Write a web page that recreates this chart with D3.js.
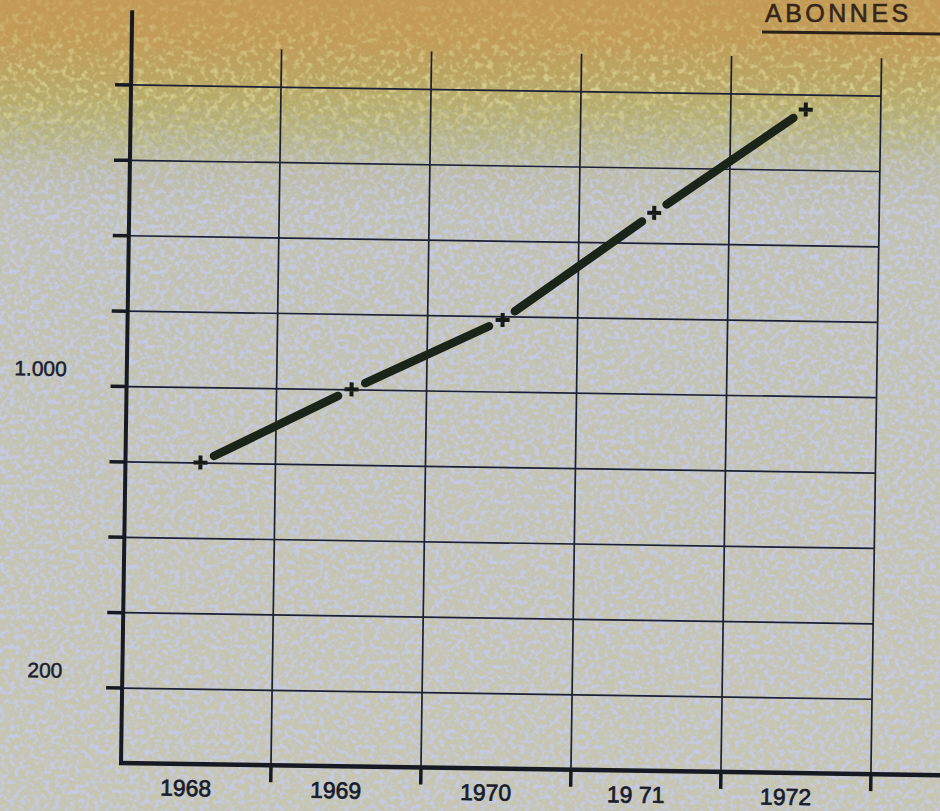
<!DOCTYPE html>
<html>
<head>
<meta charset="utf-8">
<script src="https://cdn.jsdelivr.net/npm/d3@7"></script>
<style>
  html, body { margin: 0; padding: 0; background: #c4c4ae; }
  svg { display: block; }
</style>
</head>
<body>
<svg id="drawing_region"></svg>
<script>
// data
const years = [1968, 1969, 1970, 1971, 1972];
const yearLabels = ["1968", "1969", "1970", "19 71", "1972"];
const subscribers = [800, 1000, 1190, 1480, 1760];
const yTicks = [200, 400, 600, 800, 1000, 1200, 1400, 1600, 1800];
const yLabelValues = [200, 1000];
const yLabelTexts = ["200", "1.000"];
const title = "ABONNES";

const width = 940, height = 811;

const svg = d3.select('#drawing_region')
    .attr('width', width)
    .attr('height', height);

const defs = svg.append('defs');

// paper colour: tan at the top fading through olive to grey
const grad = defs.append('linearGradient')
    .attr('id', 'paper').attr('x1', 0).attr('y1', 0).attr('x2', 0).attr('y2', 1);
[[0, '#c39a56'], [0.05, '#c19c58'], [0.09, '#bba462'], [0.13, '#b6ad6c'],
 [0.17, '#b6b486'], [0.21, '#bcbca6'], [0.26, '#c2c2b2'], [1, '#c6c6b0']]
    .forEach(s => grad.append('stop').attr('offset', s[0]).attr('stop-color', s[1]));

// speckle texture (blue-grey dots lower down, yellow dots in the olive band)
const speck = defs.append('filter').attr('id', 'speck')
    .attr('x', 0).attr('y', 0).attr('width', 1).attr('height', 1);
speck.append('feTurbulence').attr('type', 'fractalNoise')
    .attr('baseFrequency', 0.2).attr('numOctaves', 2).attr('seed', 7);
speck.append('feColorMatrix').attr('type', 'matrix')
    .attr('values', '0 0 0 0 0.56  0 0 0 0 0.59  0 0 0 0 0.80  5 0 0 0 -2.3');

const speck2 = defs.append('filter').attr('id', 'speck2')
    .attr('x', 0).attr('y', 0).attr('width', 1).attr('height', 1);
speck2.append('feTurbulence').attr('type', 'fractalNoise')
    .attr('baseFrequency', 0.16).attr('numOctaves', 2).attr('seed', 21);
speck2.append('feColorMatrix').attr('type', 'matrix')
    .attr('values', '0 0 0 0 0.80  0 0 0 0 0.78  0 0 0 0 0.38  4 0 0 0 -1.95');

const fade = defs.append('linearGradient')
    .attr('id', 'fade').attr('x1', 0).attr('y1', 0).attr('x2', 0).attr('y2', 1);
fade.append('stop').attr('offset', 0.1).attr('stop-color', 'black');
fade.append('stop').attr('offset', 0.26).attr('stop-color', 'white');
defs.append('mask').attr('id', 'lower')
    .append('rect').attr('width', width).attr('height', height).attr('fill', 'url(#fade)');

const fade2 = defs.append('linearGradient')
    .attr('id', 'fade2').attr('x1', 0).attr('y1', 0).attr('x2', 0).attr('y2', 1);
fade2.append('stop').attr('offset', 0.0).attr('stop-color', '#444');
fade2.append('stop').attr('offset', 0.11).attr('stop-color', 'white');
fade2.append('stop').attr('offset', 0.23).attr('stop-color', 'black');
defs.append('mask').attr('id', 'band')
    .append('rect').attr('width', width).attr('height', height).attr('fill', 'url(#fade2)');

svg.append('rect').attr('width', width).attr('height', height).attr('fill', 'url(#paper)');
svg.append('rect').attr('width', width).attr('height', height)
    .attr('filter', 'url(#speck)').attr('mask', 'url(#lower)').attr('opacity', 0.9);
svg.append('rect').attr('width', width).attr('height', height)
    .attr('filter', 'url(#speck2)').attr('mask', 'url(#band)').attr('opacity', 0.6);

// the scan is tilted a little, so is the chart
const chart = svg.append('g')
    .attr('transform', 'translate(121,763) rotate(0.85)');

const x = d3.scaleBand().domain(years).range([0, 750]).padding(0);
const y = d3.scaleLinear().domain([0, 2000]).range([0, -754]);

const ink = '#171a22';
const gridInk = '#1c2034';

// horizontal grid + left ticks
chart.append('g')
    .call(d3.axisLeft(y).tickValues(yTicks).tickSize(-750).tickFormat(''))
    .call(g => g.select('.domain').remove())
    .call(g => g.selectAll('.tick line').attr('stroke', gridInk).attr('stroke-width', 1.7));

chart.append('g')
    .call(d3.axisLeft(y).tickValues(yTicks).tickSize(16).tickFormat(''))
    .call(g => g.select('.domain').remove())
    .call(g => g.selectAll('.tick line').attr('stroke', ink).attr('stroke-width', 3.5));

// vertical grid lines at the year boundaries
const bounds = years.map(d => x(d) + x.bandwidth());
chart.append('g').selectAll('line')
    .data(bounds)
    .join('line')
    .attr('x1', d => d).attr('x2', d => d)
    .attr('y1', 0).attr('y2', -716)
    .attr('stroke', gridInk).attr('stroke-width', 1.7);

// bottom ticks
chart.append('g').selectAll('line')
    .data(bounds)
    .join('line')
    .attr('x1', d => d).attr('x2', d => d)
    .attr('y1', 0).attr('y2', 17)
    .attr('stroke', ink).attr('stroke-width', 3.5);

// axes
chart.append('line')
    .attr('x1', 0).attr('x2', 0).attr('y1', 2).attr('y2', y(1997))
    .attr('stroke', ink).attr('stroke-width', 4);
chart.append('line')
    .attr('x1', -2).attr('x2', 840).attr('y1', 0).attr('y2', 0)
    .attr('stroke', ink).attr('stroke-width', 4.5);

// y labels
chart.append('g').selectAll('text')
    .data(yLabelValues)
    .join('text')
    .attr('x', -60)
    .attr('y', d => y(d) - 9)
    .attr('text-anchor', 'end')
    .attr('font-family', '"Liberation Sans", Arial, sans-serif')
    .attr('font-size', 21)
    .attr('fill', '#1a1e30')
    .attr('stroke', '#1a1e30')
    .attr('stroke-width', 0.5)
    .text((d, i) => yLabelTexts[i]);

// year labels
chart.append('g').selectAll('text')
    .data(years)
    .join('text')
    .attr('x', d => x(d) + x.bandwidth() / 2 - 10)
    .attr('y', 32)
    .attr('text-anchor', 'middle')
    .attr('font-family', '"Liberation Sans", Arial, sans-serif')
    .attr('font-size', 23)
    .attr('fill', '#181c2c')
    .attr('stroke', '#181c2c')
    .attr('stroke-width', 0.7)
    .text((d, i) => yearLabels[i]);

// the inked line, broken around each point
const pts = years.map((d, i) => [x(d) + x.bandwidth() / 2, y(subscribers[i])]);
const gap = 15;
const segs = d3.pairs(pts).map(([a, b]) => {
    const dx = b[0] - a[0], dy = b[1] - a[1];
    const len = Math.hypot(dx, dy);
    const ux = dx / len, uy = dy / len;
    return [[a[0] + ux * gap, a[1] + uy * gap], [b[0] - ux * gap, b[1] - uy * gap]];
});
const line = d3.line();
chart.append('g').selectAll('path')
    .data(segs)
    .join('path')
    .attr('d', line)
    .attr('fill', 'none')
    .attr('stroke', '#1b2418')
    .attr('stroke-width', 8.5)
    .attr('stroke-linecap', 'round');

chart.append('g').selectAll('path')
    .data(pts)
    .join('path')
    .attr('transform', d => `translate(${d[0]},${d[1]})`)
    .attr('d', 'M-7,0H7M0,-7V7')
    .attr('stroke', '#171a16')
    .attr('stroke-width', 4)
    .attr('fill', 'none');

// title, top right
svg.append('text')
    .attr('x', 765).attr('y', 22)
    .attr('font-family', '"Liberation Sans", Arial, sans-serif')
    .attr('font-size', 25)
    .attr('letter-spacing', 3.5)
    .attr('fill', '#35261a')
    .attr('stroke', '#35261a')
    .attr('stroke-width', 0.6)
    .text(title);
svg.append('line')
    .attr('x1', 762).attr('x2', 940).attr('y1', 32).attr('y2', 34)
    .attr('stroke', '#2a2018').attr('stroke-width', 3);
</script>
</body>
</html>
